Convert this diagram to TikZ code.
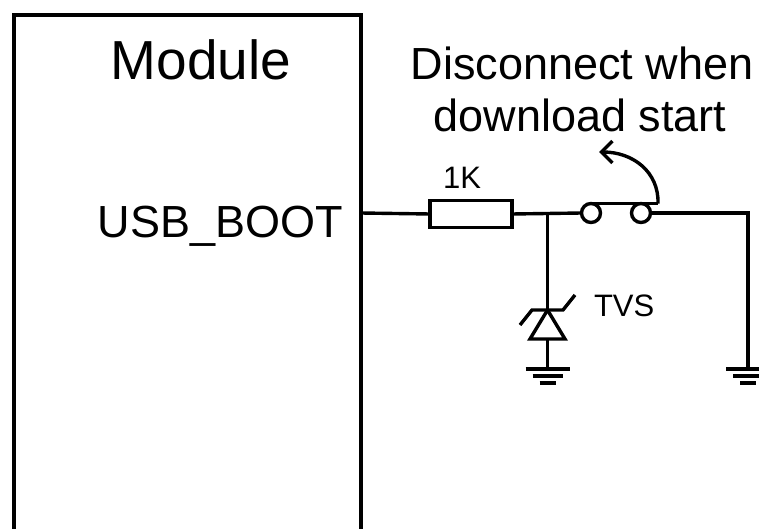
\documentclass[tikz,border=0pt]{standalone}
\usepackage{fontspec}
\setmainfont{Liberation Sans}
\usetikzlibrary{arrows.meta}
\begin{document}
\begin{tikzpicture}[x=1pt,y=-1pt,
  wire/.style={line width=3.4pt},
  txt/.style={inner sep=0pt, outer sep=0pt, anchor=base},
  bigtxt/.style={txt, font=\fontsize{45}{50}\selectfont},
  smalltxt/.style={txt, font=\fontsize{31}{34}\selectfont},
  titletxt/.style={txt, font=\fontsize{55}{60}\selectfont},
  resbox/.style={draw, line width=3.4pt, minimum width=82pt, minimum height=27pt, inner sep=0pt, outer sep=0pt},
  contact/.style={draw, circle, line width=3.4pt, minimum size=19pt, inner sep=0pt, outer sep=0pt},
  switcharrow/.style={wire, -{Straight Barb[length=11pt,width=22pt]}},
]
\clip (0,0) rectangle (759,529);
% module block
\node[draw, line width=3.4pt, anchor=north west, minimum width=347pt, minimum height=560pt, inner sep=0pt, outer sep=0pt] (module) at (14,15) {};
\node[titletxt] (mtitle) at (201,80) {Module};
\node[bigtxt, anchor=base east] (pinlbl) at (343,237) {USB\_BOOT};
\coordinate (pin) at (361,213);
% resistor
\node[resbox] (r1) at (471,214) {};
\node[smalltxt] (rlbl) at (462,189) {1K};
% switch
\coordinate (j) at (547.5,213);
\node[contact] (s1) at (591,213) {};
\node[contact] (s2) at (641,213) {};
\coordinate (barend) at (658,203.5);
\coordinate (arrowend) at (599,152);
\coordinate (rc) at (748,213);
\coordinate (g2) at (748,369);
\node[bigtxt] (note1) at (582,80) {Disconnect when};
\node[bigtxt] (note2) at (580,132) {download start};
% wires
\draw[wire] (pin) -- (r1.west);
\draw[wire] (r1.east) -- (s1.west);
\draw[wire] (s2.east) -- (rc) -- (g2);
\draw[wire] (s1.north) -- (barend);
\draw[switcharrow] (barend) .. controls (659,172) and (633,152) .. (arrowend);
% TVS diode
\coordinate (dk) at (547.5,310);
\coordinate (da) at (547.5,339);
\coordinate (g1) at (547.5,369);
\draw[wire] (j) -- (dk);
\draw[wire, line join=miter] (dk) -- (530,339) -- (565,339) -- cycle;
\draw[wire] (520,325) -- (532,310) -- (563,310) -- (575,295);
\draw[wire] (da) -- (g1);
\node[smalltxt, anchor=base west] (tvs) at (594,316) {TVS};
% grounds
\foreach \g in {g1,g2}{
  \draw[wire] ([xshift=-22pt]\g) -- ([xshift=22pt]\g);
  \draw[wire] ([xshift=-15pt,yshift=-7pt]\g) -- ([xshift=15pt,yshift=-7pt]\g);
  \draw[wire] ([xshift=-8pt,yshift=-14pt]\g) -- ([xshift=8pt,yshift=-14pt]\g);
}
\end{tikzpicture}
\end{document}
